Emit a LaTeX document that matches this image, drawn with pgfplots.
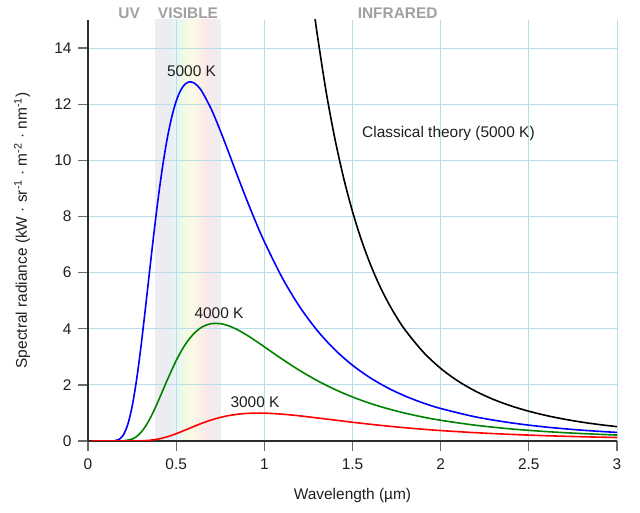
\documentclass[border=0pt]{standalone}
\usepackage{fontspec}
\setmainfont{Liberation Sans}
\usepackage{pgfplots}
\pgfplotsset{compat=1.18}
\definecolor{gridblue}{RGB}{184,222,234}
\definecolor{axisdark}{RGB}{45,45,45}
\definecolor{tickgray}{RGB}{105,105,105}
\definecolor{txt}{RGB}{30,30,30}
\definecolor{regiongray}{RGB}{160,160,165}
\definecolor{mygreen}{RGB}{0,130,0}
\pgfdeclarehorizontalshading{visband}{100bp}{%
rgb(0bp)=(0.925,0.925,0.945);
rgb(25bp)=(0.925,0.925,0.945);
rgb(33bp)=(0.925,0.925,0.949);
rgb(37.2bp)=(0.910,0.941,0.965);
rgb(41.2bp)=(0.910,0.965,0.957);
rgb(45.3bp)=(0.925,0.973,0.918);
rgb(49.3bp)=(0.965,0.980,0.894);
rgb(54.7bp)=(0.988,0.973,0.902);
rgb(58.8bp)=(0.988,0.941,0.902);
rgb(64.2bp)=(0.980,0.918,0.918);
rgb(69.6bp)=(0.949,0.925,0.933);
rgb(75bp)=(0.933,0.933,0.941);
rgb(100bp)=(0.933,0.933,0.941)}
\begin{document}
\begin{tikzpicture}
\begin{axis}[
  set layers,
  at={(88bp,72bp)}, anchor=south west,
  scale only axis, width=529bp, height=421bp,
  xmin=0, xmax=3, ymin=0, ymax=15,
  axis lines=left,
  axis line style={-, draw=axisdark, line width=1.3bp},
  xtick={0,0.5,1,1.5,2,2.5,3},
  xticklabels={0,0.5,1,1.5,2,2.5,3},
  ytick={0,2,4,6,8,10,12,14},
  yticklabels={0,2,4,6,8,10,12,14},
  tick align=outside,
  major tick length=10bp,
  tick style={draw=tickgray, line width=1.3bp},
  grid=major,
  major grid style={draw=gridblue, line width=1bp},
  clip mode=individual,
  ticklabel style={font=\fontsize{15.5}{18}\selectfont, text=txt},
  xticklabel style={yshift=-4bp},
  yticklabel style={xshift=-3bp},
  xlabel={Wavelength (µm)},
  ylabel={Spectral radiance (kW · sr\textsuperscript{-1} · m\textsuperscript{-2} · nm\textsuperscript{-1})},
  label style={font=\fontsize{15.5}{18}\selectfont, text=txt},
  xlabel style={at={(axis description cs:0.5,-0.1306)}, anchor=center},
  ylabel style={at={(axis description cs:-0.1247,0.5)}, anchor=center},
  every axis plot/.append style={line width=1.6bp, smooth},
]
\begin{pgfonlayer}{axis background}
\path[shading=visband] (axis cs:0.38,0) rectangle (axis cs:0.75,15);
\end{pgfonlayer}

% 5000 K
\addplot[blue] coordinates {
(0.02,0)(0.1,0)(0.15,0.0073)(0.175,0.0524)(0.2,0.210)(0.225,0.577)(0.25,1.223)
(0.275,2.162)(0.3,3.346)(0.325,4.691)(0.35,6.094)(0.375,7.470)(0.4,8.743)
(0.425,9.862)(0.45,10.80)(0.475,11.546)(0.5,12.106)(0.525,12.49)(0.55,12.712)(0.575,12.796)
(0.6,12.761)(0.625,12.63)(0.65,12.414)(0.7,11.811)(0.75,11.06)(0.8,10.241)(0.85,9.408)
(0.9,8.595)(0.95,7.822)(1.0,7.102)(1.1,5.832)(1.2,4.786)(1.3,3.937)(1.4,3.252)
(1.5,2.699)(1.6,2.254)(1.7,1.892)(1.8,1.597)(1.9,1.356)(2.0,1.158)(2.2,0.856)
(2.4,0.646)(2.6,0.495)(2.8,0.386)(3.0,0.305)};

% 4000 K
\addplot[mygreen] coordinates {
(0.02,0)(0.15,0)(0.2,0.0058)(0.25,0.0688)(0.275,0.158)(0.3,0.304)(0.325,0.513)
(0.35,0.781)(0.375,1.097)(0.4,1.446)(0.45,2.180)(0.5,2.865)(0.55,3.423)
(0.6,3.825)(0.65,4.072)(0.7,4.181)(0.75,4.181)(0.8,4.098)(0.85,3.957)(0.9,3.776)
(0.95,3.572)(1.0,3.356)(1.1,2.921)(1.2,2.515)(1.3,2.151)(1.4,1.837)(1.5,1.568)
(1.6,1.341)(1.7,1.150)(1.8,0.989)(1.9,0.853)(2.0,0.738)(2.2,0.560)(2.4,0.430)
(2.6,0.335)(2.8,0.265)(3.0,0.212)};

% 3000 K
\addplot[red] coordinates {
(0.02,0)(0.2,0)(0.25,0.0006)(0.3,0.0056)(0.35,0.0254)(0.4,0.0722)(0.45,0.152)
(0.5,0.260)(0.55,0.386)(0.6,0.517)(0.65,0.642)(0.7,0.751)(0.75,0.840)(0.8,0.908)
(0.85,0.955)(0.9,0.983)(0.95,0.995)(1.0,0.992)(1.1,0.957)(1.2,0.896)(1.3,0.822)
(1.4,0.745)(1.5,0.668)(1.6,0.597)(1.7,0.531)(1.8,0.472)(1.9,0.419)(2.0,0.372)
(2.2,0.295)(2.4,0.235)(2.6,0.188)(2.8,0.152)(3.0,0.124)};

% Classical theory (Rayleigh-Jeans), 5000 K
\addplot[black] coordinates {
(1.25,16.95)(1.28,15.42)(1.3,14.49)(1.35,12.46)(1.4,10.774)(1.45,9.363)(1.5,8.176)
(1.55,7.171)(1.6,6.316)(1.65,5.584)(1.7,4.956)(1.75,4.413)(1.8,3.943)(1.9,3.176)
(2.0,2.587)(2.1,2.128)(2.2,1.767)(2.3,1.479)(2.4,1.248)(2.5,1.060)(2.6,0.906)
(2.7,0.779)(2.8,0.673)(2.9,0.585)(3.0,0.511)};

\tikzset{lbl/.style={font=\fontsize{15.5}{18}\selectfont, text=txt, anchor=base, inner sep=0pt}}
\node[lbl] at (axis cs:0.587,12.97) {5000 K};
\node[lbl] at (axis cs:0.743,4.38) {4000 K};
\node[lbl] at (axis cs:0.947,1.21) {3000 K};
\node[lbl] at (axis cs:2.044,10.83) {Classical theory (5000 K)};

\tikzset{reg/.style={font=\fontsize{15.5}{18}\selectfont\bfseries, text=regiongray, anchor=base, inner sep=0pt}}
\node[reg] at (axis cs:0.233,15.06) {UV};
\node[reg] at (axis cs:0.567,15.06) {VISIBLE};
\node[reg] at (axis cs:1.756,15.06) {INFRARED};
\end{axis}
\pgfresetboundingbox
\path[use as bounding box] (0,0) rectangle (640bp,513bp);
\end{tikzpicture}
\end{document}
